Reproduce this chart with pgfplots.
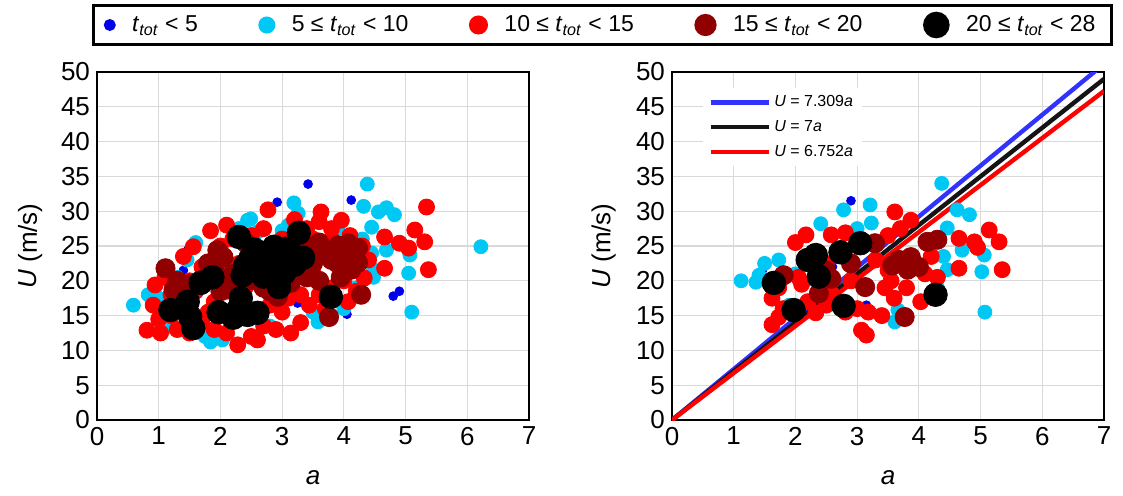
\documentclass[border=0pt]{standalone}
\usepackage{fontspec}
\setmainfont{Liberation Sans}
\usepackage{pgfplots}
\usepackage{pgfplotstable}
\pgfplotsset{compat=1.18}
\definecolor{cblue}{RGB}{0,0,235}
\definecolor{ccyan}{RGB}{0,200,245}
\definecolor{cred}{RGB}{255,0,0}
\definecolor{cdred}{RGB}{145,0,0}
\definecolor{lblue}{RGB}{50,50,255}
\definecolor{lblack}{RGB}{20,20,20}
\newcommand{\ttot}{\textit{t}\textsubscript{\textit{tot}}}

% ---------------- left panel data ----------------
\pgfplotstableread{
x y
3.42 33.9
2.92 31.3
4.12 31.6
1.47 24.4
4.90 18.5
4.80 17.8
3.25 16.8
1.40 21.5
4.05 15.2
}\Lblue
\pgfplotstableread{
x y
0.59 16.5
0.83 18.0
1.14 13.4
1.46 23.0
1.30 20.5
1.00 17.5
1.84 11.2
2.03 11.5
1.75 12.0
2.44 28.7
2.49 28.9
2.30 27.5
3.10 28.0
3.19 31.2
3.26 29.7
3.00 27.2
3.58 14.1
3.50 15.5
4.32 30.7
4.38 33.9
4.56 29.9
4.69 30.5
4.82 29.5
4.45 27.7
4.45 24.0
4.48 21.6
4.48 20.5
4.69 24.4
5.07 23.7
5.05 21.1
5.10 15.5
6.22 24.9
4.20 19.0
4.00 16.0
2.80 13.5
1.60 25.5
2.60 27.0
3.90 27.5
4.30 26.0
}\Lcyan
\pgfplotstableread{
x y
5.34 30.6
2.77 30.2
3.63 29.9
3.96 28.7
3.60 28.5
3.80 27.5
1.84 27.2
1.56 24.9
4.66 26.3
5.15 27.3
5.31 25.6
4.90 25.4
5.05 24.7
4.66 21.8
5.37 21.6
0.94 19.4
0.91 16.5
0.81 12.9
1.03 12.5
2.28 10.8
3.14 12.5
4.33 20.4
4.07 17.0
3.44 16.5
1.20 18.0
1.20 15.0
1.30 13.0
1.50 12.5
1.70 14.0
1.90 13.0
2.10 12.5
2.50 12.0
2.70 13.5
2.90 13.0
3.30 14.0
3.00 15.5
2.80 16.5
1.50 20.0
1.70 22.0
2.00 25.0
2.20 26.0
2.50 26.5
2.70 27.5
3.00 26.0
3.40 27.5
3.50 26.0
3.80 26.0
4.10 26.5
4.30 25.0
4.40 23.0
4.20 22.0
4.00 20.0
3.80 19.0
3.60 18.0
3.30 18.0
1.90 17.0
2.10 18.5
2.30 22.5
1.30 16.8
1.00 14.5
2.60 11.5
3.90 23.0
3.50 21.0
3.10 17.5
1.10 20.5
1.80 15.5
2.40 19.0
2.00 21.0
3.70 16.0
4.20 18.5
1.60 18.5
2.10 28.0
3.20 28.8
1.40 23.5
}\Lred
\pgfplotstableread{
x y
1.11 21.8
4.28 18.0
3.76 14.8
3.91 25.1
4.07 25.4
4.23 24.7
4.12 21.6
4.23 22.6
3.42 24.9
3.68 24.4
1.95 24.4
2.05 23.4
1.68 20.1
1.24 18.7
2.54 20.1
2.93 17.7
3.14 19.7
3.50 22.5
3.80 23.0
3.30 21.5
2.20 21.0
1.50 19.5
2.00 18.5
2.70 19.0
1.40 16.5
1.80 22.5
3.95 20.5
3.60 20.0
3.20 23.5
3.60 25.5
3.90 22.5
4.10 23.5
2.40 25.5
2.20 19.5
1.90 21.5
3.40 20.5
2.80 18.5
1.30 20.0
}\Ldred
\pgfplotstableread{
x y
2.30 26.3
3.27 26.9
2.87 24.9
2.70 24.0
2.49 23.3
2.93 23.4
3.14 24.0
3.34 23.3
2.36 20.8
2.60 21.6
2.82 21.6
3.03 21.1
2.95 19.1
1.68 19.7
1.87 20.5
3.79 17.7
1.19 15.8
1.47 17.0
1.51 14.8
1.56 13.2
1.97 15.5
2.28 15.8
2.33 17.5
2.44 15.1
2.60 15.4
2.21 14.7
2.75 22.5
2.55 24.5
3.00 22.5
2.40 22.2
2.65 23.0
2.85 23.8
3.05 24.6
2.50 22.0
2.70 20.6
3.20 22.3
}\Lblack

% ---------------- right panel data ----------------
\pgfplotstableread{
x y
2.90 31.5
1.46 21.4
3.15 16.5
2.60 22.0
}\Rblue
\pgfplotstableread{
x y
4.37 34.0
2.78 30.2
3.21 30.9
2.41 28.2
3.23 28.3
3.00 27.5
1.12 20.0
1.36 19.8
1.41 20.8
1.73 23.0
1.50 22.5
4.46 27.6
4.62 30.2
4.82 29.5
5.07 15.5
5.06 23.7
5.02 21.3
3.61 14.1
3.66 15.8
4.46 21.6
4.40 23.5
4.70 24.4
2.00 21.0
1.90 16.5
4.30 19.0
}\Rcyan
\pgfplotstableread{
x y
3.61 29.9
3.87 28.7
3.70 27.5
3.50 26.5
2.17 26.6
2.58 26.6
2.81 26.9
4.65 26.1
5.14 27.3
5.30 25.6
4.90 25.6
4.95 24.8
4.65 21.8
5.35 21.6
3.07 12.9
3.15 12.2
1.62 13.7
1.73 14.8
1.62 17.5
1.73 19.0
2.05 20.5
2.10 19.5
4.03 17.0
3.18 15.5
2.81 15.5
3.00 16.0
2.33 15.4
4.30 20.5
3.50 21.5
3.55 20.0
3.45 19.0
2.00 25.5
2.50 22.5
2.90 20.0
3.30 23.0
3.90 23.0
4.10 21.0
4.20 23.5
3.80 19.0
3.60 17.5
2.60 18.0
2.20 17.0
1.80 16.0
2.50 16.5
3.40 15.0
}\Rred
\pgfplotstableread{
x y
3.77 14.8
4.14 25.6
4.30 25.9
3.13 19.1
1.81 20.8
3.87 23.4
3.82 21.6
3.68 23.0
3.57 22.2
3.29 25.4
2.49 21.5
2.58 20.3
2.38 18.2
4.00 22.0
2.90 22.5
}\Rdred
\pgfplotstableread{
x y
3.05 25.4
2.73 24.1
2.33 23.7
2.20 23.0
2.38 20.6
1.65 19.7
1.97 15.8
2.78 16.4
4.27 18.0
}\Rblack

\pgfplotsset{
 base/.style={
  scale only axis, width=216pt, height=174pt,
  xmin=0, xmax=7, ymin=0, ymax=50,
  xtick={0,...,7}, ytick={0,5,...,50},
  grid=major, grid style={gray!30, line width=0.6pt},
  major tick length=0pt,
  axis line style={line width=1.3pt},
  tick label style={font=\fontsize{13}{15}\selectfont},
  /pgf/number format/assume math mode=true,
  xlabel={\textit{a}}, ylabel={\textit{U} (m/s)},
  every axis x label/.style={at={(axis description cs:0.5,-0.167)}, anchor=center, font=\fontsize{13}{15}\selectfont},
  every axis y label/.style={at={(axis description cs:-0.155,0.5)}, rotate=90, anchor=center, font=\fontsize{13}{15}\selectfont},
 },
 sb/.style={color=cblue, only marks, mark=*, mark size=2.2pt},
 sc/.style={color=ccyan, only marks, mark=*, mark size=3.5pt},
 sr/.style={color=cred, only marks, mark=*, mark size=4pt},
 sd/.style={color=cdred, only marks, mark=*, mark size=4.8pt},
 sk/.style={color=black, only marks, mark=*, mark size=5.9pt},
}

\begin{document}
\begin{tikzpicture}
\useasboundingbox (-48.5pt,-37.5pt) rectangle (513pt,210pt);
\begin{axis}[base, at={(0,0)}, anchor=south west,
  legend columns=5,
  legend style={at={(axis description cs:1.1701,1.1351)}, anchor=center,
    draw=black, line width=1.5pt, inner xsep=6pt, inner ysep=3pt,
    font=\fontsize{11.5}{13}\selectfont,
    /tikz/every odd column/.append style={column sep=7pt},
    /tikz/every even column/.append style={column sep=29pt}},
]
\addplot[sb] table {\Lblue};  \addlegendentry{\ttot{} < 5}
\addplot[sc] table {\Lcyan};  \addlegendentry{5 ≤ \ttot{} < 10}
\addplot[sr] table {\Lred};   \addlegendentry{10 ≤ \ttot{} < 15}
\addplot[sd] table {\Ldred};  \addlegendentry{15 ≤ \ttot{} < 20}
\addplot[sk] table {\Lblack}; \addlegendentry{20 ≤ \ttot{} < 28}
\end{axis}

\begin{axis}[base, at={(287.5pt,0)}, anchor=south west,
  every axis y label/.style={at={(axis description cs:-0.158,0.5)}, rotate=90, anchor=center, font=\fontsize{13}{15}\selectfont},
  legend cell align=left,
  legend style={at={(axis description cs:0.07,0.955)}, anchor=north west,
    draw=none, fill=white, font=\fontsize{8}{9}\selectfont, row sep=2.2pt,
    nodes={inner sep=1.6pt}},
  legend image code/.code={\draw[#1, line width=2.2pt] (0pt,0pt) -- (29pt,0pt);},
]
\addplot[sb, forget plot] table {\Rblue};
\addplot[sc, forget plot] table {\Rcyan};
\addplot[sr, forget plot] table {\Rred};
\addplot[sd, forget plot] table {\Rdred};
\addplot[sk, forget plot] table {\Rblack};
\addplot[lblue, line width=2.2pt] coordinates {(0,0) (7,51.163)};
\addlegendentry{\textit{U} = 7.309\textit{a}}
\addplot[lblack, line width=2.2pt] coordinates {(0,0) (7,49)};
\addlegendentry{\textit{U} = 7\textit{a}}
\addplot[cred, line width=2.2pt] coordinates {(0,0) (7,47.264)};
\addlegendentry{\textit{U} = 6.752\textit{a}}
\end{axis}
\end{tikzpicture}
\end{document}
